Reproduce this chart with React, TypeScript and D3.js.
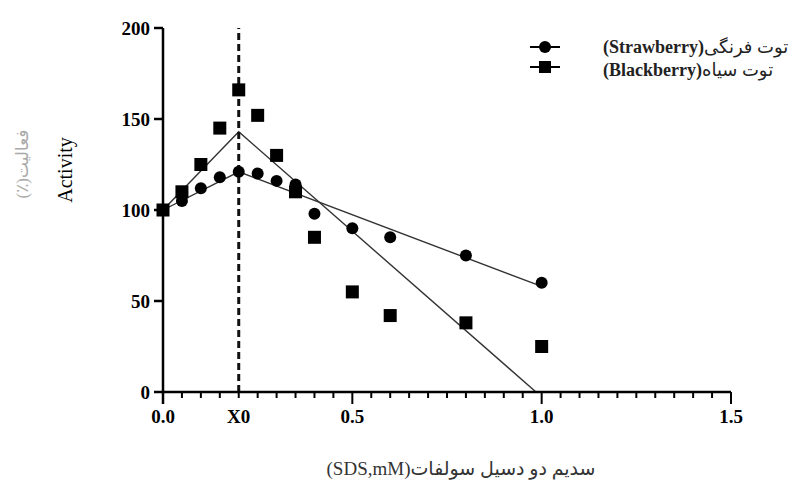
import React from "react";
import * as d3 from "d3";

// concentrations (SDS, mM)
const sds = [0, 0.05, 0.1, 0.15, 0.2, 0.25, 0.3, 0.35, 0.4, 0.5, 0.6, 0.8, 1.0];
const strawberry = [100, 105, 112, 118, 121, 120, 116, 114, 98, 90, 85, 75, 60];
const blackberry = [100, 110, 125, 145, 166, 152, 130, 110, 85, 55, 42, 38, 25];

// two-segment fits
const strawberryFit: [number, number][] = [[0, 100], [0.2, 121], [1.0, 58]];
const blackberryFit: [number, number][] = [[0, 100], [0.2, 143], [0.985, 0]];

const x0 = 0.2;
const yTicks = [0, 50, 100, 150, 200];
const xMajor = [0, 0.5, 1.0, 1.5];
const xMinor = d3.range(0, 31).map((i) => i * 0.05);

const W = 809;
const H = 488;
const serif = "Liberation Serif, DejaVu Sans, serif";

export default function App() {
  const x = d3.scaleLinear().domain([0, 1.5]).range([163, 731]);
  const y = d3.scaleLinear().domain([0, 200]).range([392, 28]);
  const line = d3.line<[number, number]>().x((d) => x(d[0])).y((d) => y(d[1]));

  return (
    <svg width={W} height={H} style={{ position: "absolute", left: 0, top: 0, background: "#fff", fontFamily: serif }}>
      {/* fits */}
      <path d={line(strawberryFit) || ""} fill="none" stroke="#333" strokeWidth={1.4} />
      <path d={line(blackberryFit) || ""} fill="none" stroke="#333" strokeWidth={1.4} />

      {/* X0 dashed line */}
      <line x1={x(x0)} x2={x(x0)} y1={y(0)} y2={y(200)} stroke="#111" strokeWidth={3} strokeDasharray="7,4" />

      {/* markers */}
      {sds.map((s, i) => (
        <rect key={"b" + i} x={x(s) - 6.5} y={y(blackberry[i]) - 6.5} width={13} height={13} fill="#000" />
      ))}
      {sds.map((s, i) => (
        <circle key={"s" + i} cx={x(s)} cy={y(strawberry[i])} r={6} fill="#000" />
      ))}

      {/* y axis */}
      <line x1={x(0)} x2={x(0)} y1={y(200)} y2={y(0) + 12} stroke="#000" strokeWidth={2.5} />
      {yTicks.map((t) => (
        <g key={t}>
          <line x1={x(0) - 9} x2={x(0)} y1={y(t)} y2={y(t)} stroke="#000" strokeWidth={2.5} />
          <text x={x(0) - 13} y={y(t)} dy="0.35em" textAnchor="end" fontSize={19} fontWeight="bold">
            {t}
          </text>
        </g>
      ))}

      {/* x axis */}
      <line x1={x(0)} x2={x(1.5)} y1={y(0)} y2={y(0)} stroke="#000" strokeWidth={2.5} />
      {xMinor.map((t, i) => (
        <line key={i} x1={x(t)} x2={x(t)} y1={y(0)} y2={y(0) + (i % 10 === 0 ? 12 : 6)} stroke="#000" strokeWidth={2} />
      ))}
      {xMajor.map((t) => (
        <text key={t} x={x(t)} y={y(0) + 31} textAnchor="middle" fontSize={19} fontWeight="bold">
          {d3.format(".1f")(t)}
        </text>
      ))}
      <text x={x(x0)} y={y(0) + 31} textAnchor="middle" fontSize={19} fontWeight="bold">
        X0
      </text>

      {/* axis titles */}
      <text transform="translate(72,170) rotate(-90)" textAnchor="middle" fontSize={20}>
        Activity
      </text>
      <text transform="translate(28,164) rotate(-90)" textAnchor="middle" fontSize={17} fill="#aaa">
        (٪)فعالیت
      </text>
      <text x={461} y={475} textAnchor="middle" fontSize={19} fill="#333" direction="rtl">
        سدیم دو دسیل سولفات(SDS,mM)
      </text>

      {/* legend */}
      <g>
        <line x1={530} x2={560} y1={47} y2={47} stroke="#000" strokeWidth={2} />
        <circle cx={545} cy={47} r={6} fill="#000" />
        <text x={603} y={47} dy="0.35em" fontSize={18} fill="#222" direction="rtl" textAnchor="end">
          توت فرنگی<tspan fontWeight="bold">(Strawberry)</tspan>
        </text>
        <line x1={530} x2={560} y1={67} y2={67} stroke="#000" strokeWidth={2} />
        <rect x={539} y={61} width={12} height={12} fill="#000" />
        <text x={603} y={70} dy="0.35em" fontSize={18} fill="#222" direction="rtl" textAnchor="end">
          توت سیاه<tspan fontWeight="bold">(Blackberry)</tspan>
        </text>
      </g>
    </svg>
  );
}
